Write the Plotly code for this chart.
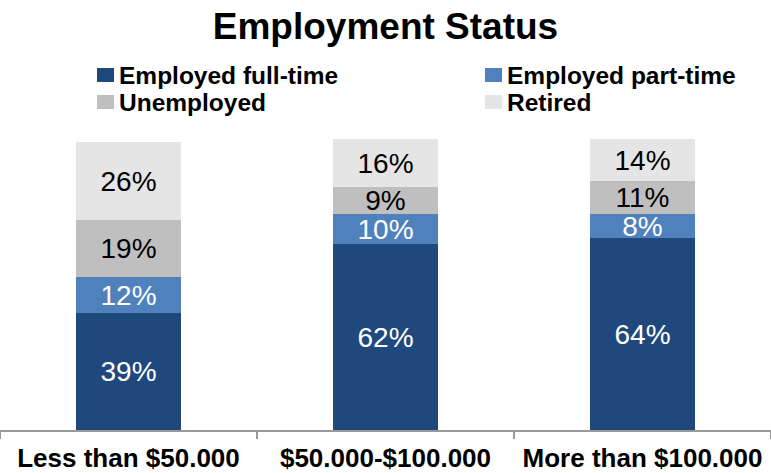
import plotly.graph_objects as go

# Income brackets and employment shares (%)
categories = ["Less than $50.000", "$50.000-$100.000", "More than $100.000"]
series_names = ["Employed full-time", "Employed part-time", "Unemployed", "Retired"]
full_time = [39, 62, 64]
part_time = [12, 10, 8]
unemployed = [19, 9, 11]
retired = [26, 16, 14]

series_values = [full_time, part_time, unemployed, retired]
colors = ["#1F497D", "#4F81BD", "#BFBFBF", "#E5E5E5"]
label_colors = ["white", "white", "black", "black"]

W, H = 771, 473
MT, MB = 130, 43
FONT = "Liberation Sans, Arial, sans-serif"

fig = go.Figure()
for name, vals, col, lc in zip(series_names, series_values, colors, label_colors):
    fig.add_trace(go.Bar(
        x=categories, y=vals, name=name,
        marker=dict(color=col, line=dict(width=0)),
        text=[f"{v}%" for v in vals],
        textposition="inside", insidetextanchor="middle",
        textfont=dict(family=FONT, size=28, color=lc),
        showlegend=False,
    ))

# Two-column legend built from the series names and colours
plot_h = H - MT - MB
def py(pix):
    return (H - MB - pix) / plot_h

legend_cols = [97, 485]
legend_rows = [75, 102]
for i, (name, col) in enumerate(zip(series_names, colors)):
    cx = legend_cols[i % 2]
    cy = legend_rows[i // 2]
    fig.add_shape(type="rect", xref="paper", yref="paper",
                  x0=cx / W, x1=(cx + 17) / W, y0=py(cy + 7), y1=py(cy - 7),
                  fillcolor=col, line=dict(width=0))
    fig.add_annotation(text=name, xref="paper", yref="paper",
                       x=(cx + 20) / W, y=py(cy), xanchor="left", yanchor="middle",
                       showarrow=False,
                       font=dict(family=FONT, size=24.5, color="black", weight="bold"))

fig.update_layout(
    width=W, height=H,
    margin=dict(l=0, r=0, t=MT, b=MB),
    barmode="stack", bargap=0.59,
    plot_bgcolor="white", paper_bgcolor="white",
    uniformtext=dict(minsize=28, mode="show"),
    title=dict(text="<b>Employment Status</b>", x=0.5, xanchor="center",
               xref="paper", yref="container", y=1 - 26 / H, yanchor="middle",
               font=dict(family=FONT, size=37, color="black")),
    xaxis=dict(type="category", showline=True, linecolor="#999999", linewidth=2,
               ticks="outside", tickson="boundaries", ticklen=7, tickwidth=2,
               tickcolor="#999999", showgrid=False, ticklabelstandoff=4,
               automargin=False,
               tickfont=dict(family=FONT, size=26, color="black", weight="bold")),
    yaxis=dict(range=[0, 100], visible=False, showgrid=False, zeroline=False,
               automargin=False),
)

fig.write_html("out.html")
